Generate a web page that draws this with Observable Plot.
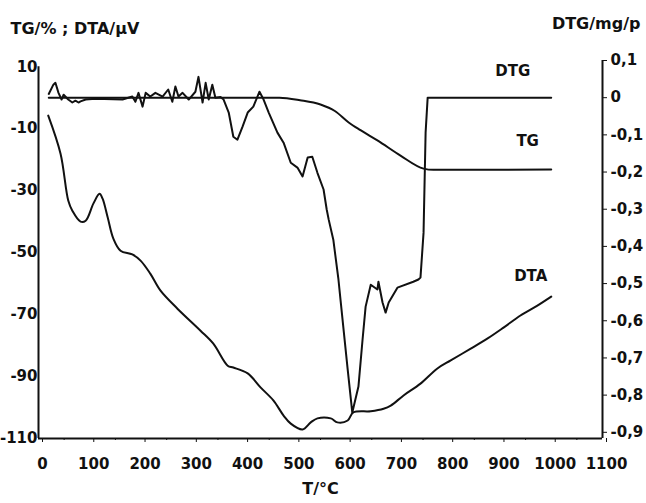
<!DOCTYPE html>
<html><head><meta charset="utf-8">
<script src="https://cdn.jsdelivr.net/npm/d3@7"></script>
<script src="https://cdn.jsdelivr.net/npm/@observablehq/plot@0.6"></script>
<style>
body{margin:0;background:#fff;}
#chart svg{font-family:"DejaVu Sans",sans-serif;font-weight:bold;}
</style>
</head><body><div id="chart"></div>
<script>
// DTG (right axis, mg/p)
const dtgT = [20,29,33,39,45,49,58,66,72,78,82,92,111,164,183,189,195,203,209,218,228,242,253,261,267,273,281,293,306,312,320,326,332,339,345,355,361,371,380,388,398,408,419,431,439,449,466,478,492,505,515,525,534,544,556,562,566,575,585,589,595,603,612,624,632,638,648,661,663,671,677,683,700,731,741,745,751,755,759,1000];
const dtgV = [0.010,0.035,0.040,0.013,-0.005,0.008,-0.005,-0.013,-0.008,-0.013,-0.010,-0.005,-0.003,-0.005,0.003,-0.011,0.013,-0.024,0.013,0.003,0.013,0.003,0.022,-0.011,0.030,0.003,0.013,-0.005,0.016,0.056,-0.013,0.040,-0.005,0.035,0,0.002,-0.005,-0.040,-0.105,-0.113,-0.078,-0.040,-0.024,0.016,-0.005,-0.040,-0.094,-0.121,-0.175,-0.188,-0.212,-0.161,-0.159,-0.202,-0.247,-0.300,-0.328,-0.382,-0.489,-0.543,-0.624,-0.731,-0.847,-0.777,-0.651,-0.562,-0.503,-0.516,-0.495,-0.551,-0.578,-0.551,-0.511,-0.495,-0.489,-0.484,-0.363,-0.094,0,0];
// TG (left axis, %)
const tgT = [20,470,510,550,578,605,628,661,706,751,770,1000];
const tgV = [0,0,-0.8,-2.2,-4.3,-8,-10.5,-13.8,-18.7,-22.9,-23.3,-23.2];
// DTA (left axis, µV)
const dtaT = [19,43,58,66,82,92,107,119,125,135,146,160,183,199,218,238,271,316,341,369,380,408,433,458,478,492,515,531,544,570,583,603,614,648,673,687,712,745,778,804,843,876,907,940,973,1000];
const dtaV = [-5.8,-18.1,-33.2,-36.5,-40,-39.7,-34.2,-31,-32.6,-38.7,-45.5,-49.4,-50.6,-52.6,-56.8,-62.3,-68.1,-75.2,-79.4,-86.5,-87.1,-89,-93.5,-97.7,-102.6,-105.2,-107.1,-104.8,-103.5,-103.5,-104.8,-104.2,-101.6,-101.2,-100.4,-99.4,-96.1,-92.3,-87.4,-84.8,-81,-77.7,-74.2,-70.3,-67.1,-64.2];

const leftTicks = [10,-10,-30,-50,-70,-90,-110];
const rightTicks = [0.1,0,-0.1,-0.2,-0.3,-0.4,-0.5,-0.6,-0.7,-0.8,-0.9];
const xTicks = [0,100,200,300,400,500,600,700,800,900,1000,1100];
const xMinorTicks = [50,150,250,350,450,550,650,750,850,950,1050];
const seriesLabels = [
  {name:"DTG", t:925, v:8.7},
  {name:"TG", t:954, v:-14.2},
  {name:"DTA", t:960, v:-57.7}
];
const xDomain = [0,1100];
const yDomain = [-110,12];
const K = 120; // DTG (mg/p) -> left-axis units

const dtg = dtgT.map((t,i)=>({t, v:dtgV[i]*K}));
const tg = tgT.map((t,i)=>({t, v:tgV[i]}));
const dta = dtaT.map((t,i)=>({t, v:dtaV[i]}));
const fmtL = d => String(d).replace("−","-");
const fmtR = d => (Math.abs(d)<1e-9?"0":d.toFixed(1).replace(".",",").replace("−","-"));
const ink = "#111";
const font = "DejaVu Sans, sans-serif";

const chart = Plot.plot({
  width:646, height:503,
  marginLeft:38, marginRight:44, marginTop:60, marginBottom:65,
  x:{domain:xDomain},
  y:{domain:yDomain},
  style:{fontSize:"15px", fontFamily:font, fontWeight:"bold", color:ink, background:"#fff"},
  marks:[
    Plot.axisX({ticks:xTicks, tickSize:4, tickPadding:16, tickFormat:d=>String(d), label:null, fontSize:15, dx:4}),
    Plot.axisX({ticks:xMinorTicks, tickSize:2, tickFormat:()=>"", label:null}),
    Plot.axisY({ticks:leftTicks, tickSize:0, tickPadding:1, tickFormat:fmtL, label:null, fontSize:15}),
    Plot.axisY({anchor:"right", ticks:rightTicks.map(d=>d*K), tickSize:4, tickPadding:4, tickFormat:d=>fmtR(d/K), label:null, fontSize:15}),
    Plot.ruleX([xDomain[0]], {y1:yDomain[0], y2:leftTicks[0], stroke:ink, strokeWidth:2}),
    Plot.ruleX([xDomain[1]], {y1:yDomain[0], y2:rightTicks[0]*K, stroke:ink, strokeWidth:2}),
    Plot.ruleY([yDomain[0]], {x1:xDomain[0], x2:xDomain[1], stroke:ink, strokeWidth:2}),
    Plot.line(tg, {x:"t", y:"v", stroke:ink, strokeWidth:2, curve:"monotone-x"}),
    Plot.line(dta, {x:"t", y:"v", stroke:ink, strokeWidth:2, curve:"catmull-rom"}),
    Plot.line(dtg, {x:"t", y:"v", stroke:ink, strokeWidth:2}),
    Plot.text(seriesLabels, {x:"t", y:"v", text:"name", fontSize:15, fontWeight:"bold", fill:ink}),
    Plot.text(["TG/% ; DTA/µV"], {frameAnchor:"top-left", dx:-28, dy:-38, textAnchor:"start", fontSize:16, fill:ink}),
    Plot.text(["DTG/mg/p"], {frameAnchor:"top-right", dx:38, dy:-43, textAnchor:"end", fontSize:16, fill:ink}),
    Plot.text(["T/°C"], {frameAnchor:"bottom", dy:55, fontSize:16, fill:ink})
  ]
});
document.getElementById("chart").append(chart);
</script>
</body></html>
